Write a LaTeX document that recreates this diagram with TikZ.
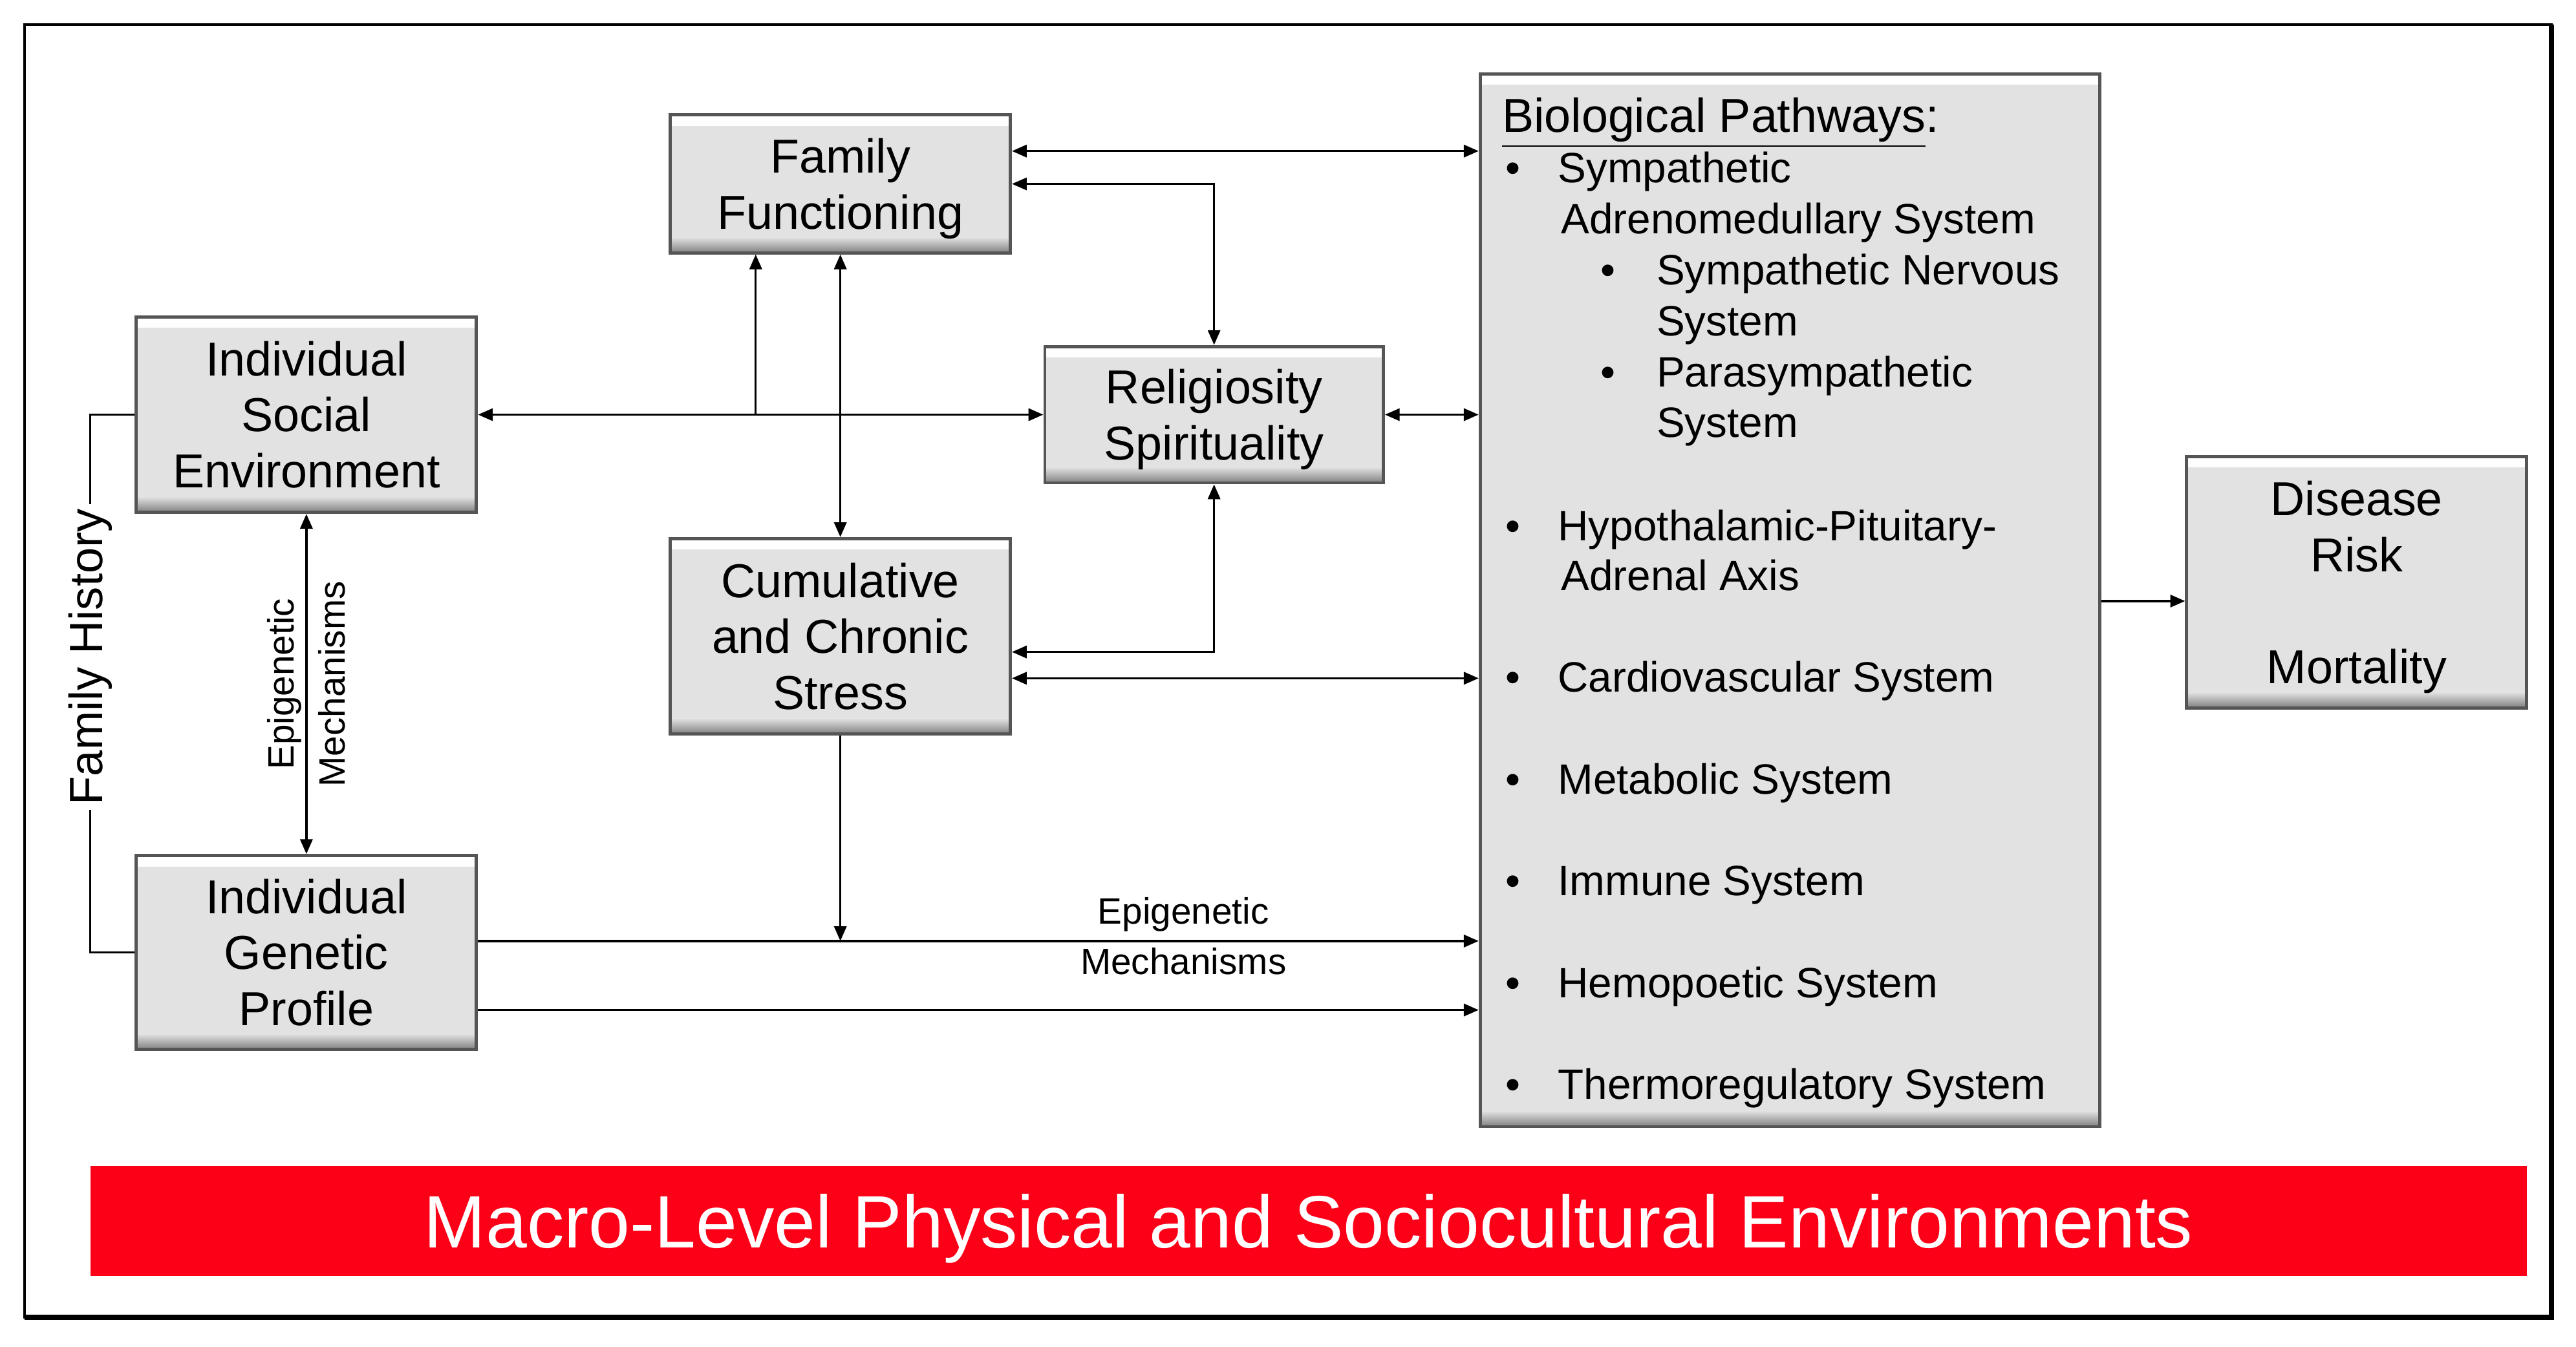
\documentclass[tikz,border=0pt]{standalone}
\usepackage{fontspec}
\setmainfont{Liberation Sans}
\usetikzlibrary{arrows.meta,positioning,calc}

\definecolor{boxgray}{RGB}{226,226,226}
\definecolor{boxedge}{RGB}{85,85,85}
\definecolor{macrored}{RGB}{252,0,24}

\begin{document}
\begin{tikzpicture}[
  >={Triangle[length=1.8mm,width=1.5mm]},
  box/.style={draw=boxedge,line width=1.1pt,fill=boxgray,align=center,minimum width=4.14cm,inner sep=0pt,
    font=\fontsize{16.5}{19.4}\selectfont,
    path picture={
      \shade[top color=white,bottom color=boxgray] (path picture bounding box.north west) rectangle ([yshift=-1.3mm]path picture bounding box.north east);
      \shade[top color=boxgray,bottom color=black!50] ([yshift=1.9mm]path picture bounding box.south west) rectangle (path picture bounding box.south east);
    }},
  item/.style={anchor=west,inner sep=0pt,text height=0.75em,text depth=0.25em,font=\fontsize{14.7}{17.6}\selectfont},
  epi/.style={align=center,inner sep=0pt,font=\fontsize{12.7}{17.6}\selectfont},
  link/.style={->,line width=0.75pt},
  both/.style={<->,line width=0.75pt}
]
\useasboundingbox (0,0) rectangle (31.36,16.4);
\draw[line width=1pt] (0.3,0.36) rectangle (31.06,16.1);
\draw[line width=1.8pt] (0.3,0.36) -- (31.06,0.36) -- (31.06,16.1);

% boxes
\node[box,minimum height=1.68cm] (ff) at (10.23,14.16) {Family\\\smash{Functioning}};
\node[box,minimum height=2.38cm] (ise) at (3.73,11.35) {Individual\\Social\\Environment};
\node[box,minimum width=4.12cm,minimum height=1.66cm] (rs) at (14.78,11.35) {Religiosity\\\smash{Spirituality}};
\node[box,minimum height=2.38cm] (ccs) at (10.23,8.65) {Cumulative\\and Chronic\\Stress};
\node[box,minimum height=2.36cm] (igp) at (3.73,4.8) {Individual\\Genetic\\Profile};
\node[box,minimum height=3.06cm] (drm) at (28.69,9.31) {Disease\\Risk\\[\baselineskip]\smash{Mortality}};
\node[box,minimum width=7.54cm,minimum height=12.82cm] (bp) at (21.79,9.09) {};

% biological pathways list
\node[item,font=\fontsize{16.5}{19.4}\selectfont] (bpt) at (18.28,14.88) {\underline{Biological Pathways}:};
\node[item] (bp1) at (18.32,14.26) {\makebox[6.4mm][l]{\textbullet}Sympathetic};
\node[item] (bp2) at (19.0,13.64) {Adrenomedullary System};
\node[item] (bp3) at (19.48,13.02) {\makebox[6.8mm][l]{\textbullet}Sympathetic Nervous};
\node[item] (bp4) at (20.16,12.4) {System};
\node[item] (bp5) at (19.48,11.78) {\makebox[6.8mm][l]{\textbullet}Parasympathetic};
\node[item] (bp6) at (20.16,11.16) {System};
\node[item] (bp7) at (18.32,9.9) {\makebox[6.4mm][l]{\textbullet}Hypothalamic-Pituitary-};
\node[item] (bp8) at (19.0,9.3) {Adrenal Axis};
\node[item] (bp9) at (18.32,8.06) {\makebox[6.4mm][l]{\textbullet}Cardiovascular System};
\node[item] (bp10) at (18.32,6.82) {\makebox[6.4mm][l]{\textbullet}Metabolic System};
\node[item] (bp11) at (18.32,5.58) {\makebox[6.4mm][l]{\textbullet}Immune System};
\node[item] (bp12) at (18.32,4.34) {\makebox[6.4mm][l]{\textbullet}Hemopoetic System};
\node[item] (bp13) at (18.32,3.1) {\makebox[6.4mm][l]{\textbullet}Thermoregulatory System};

\node[fill=macrored,text=white,minimum width=29.66cm,minimum height=1.34cm,inner sep=0pt,text depth=0pt,font=\fontsize{25.7}{30}\selectfont] (macro) at (15.93,1.53) {Macro-Level Physical and Sociocultural Environments};

% family history
\node[rotate=90,inner sep=1.5pt,font=\fontsize{16.2}{19}\selectfont] (fh) at (1.1,8.4) {Family History};
\draw[line width=0.75pt] (ise.west) -| (fh.east);
\draw[line width=0.75pt] (igp.west) -| (fh.west);

% connectors
\coordinate (f1) at ([yshift=4mm]ff.east);
\coordinate (f2) at ([xshift=-10.3mm]ff.south);
\coordinate (c1) at ([yshift=-1.9mm]ccs.east);
\coordinate (c2) at ([yshift=-5.1mm]ccs.east);
\coordinate (g1) at ([yshift=1.4mm]igp.east);
\coordinate (g2) at ([yshift=-7mm]igp.east);
\coordinate (dr) at ([yshift=-2.3mm]drm.west);

\draw[both] (f1) -- (f1 -| bp.west);
\draw[both] (ff.east) -| (rs.north);
\draw[both] (ise.east) -- (rs.west);
\draw[link] (f2 |- ise.east) -- (f2);
\draw[both] (ff.south) -- (ccs.north);
\draw[both] (rs.east) -- (rs.east -| bp.west);
\draw[both] (rs.south) |- (c1);
\draw[both] (c2) -- (c2 -| bp.west);
\draw[link] (ccs.south) -- (ccs.south |- g1);
\draw[link] (g1) -- node[epi,pos=0.705,yshift=0.6mm] (epih) {Epigenetic\\Mechanisms} (g1 -| bp.west);
\draw[link] (g2) -- (g2 -| bp.west);
\draw[both] (ise.south) -- node[epi,rotate=90] (epiv) {Epigenetic\\Mechanisms} (igp.north);
\draw[link] (dr -| bp.east) -- (dr);
\end{tikzpicture}
\end{document}
